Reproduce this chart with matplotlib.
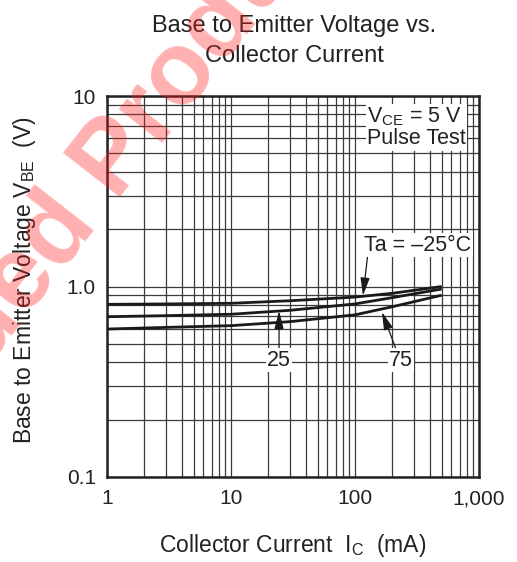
import matplotlib
matplotlib.use("Agg")
import matplotlib.pyplot as plt
from matplotlib.ticker import FixedLocator, FixedFormatter, LogLocator, NullFormatter

plt.rcParams['font.family'] = ['Liberation Sans', 'DejaVu Sans']
plt.rcParams['mathtext.fontset'] = 'custom'
plt.rcParams['mathtext.rm'] = 'Liberation Sans'
plt.rcParams['mathtext.it'] = 'Liberation Sans:italic'
plt.rcParams['mathtext.default'] = 'rm'

# ---- data ----
ic_ma = [1, 3, 10, 30, 100, 200, 500]
vbe_m25 = [0.806, 0.810, 0.816, 0.842, 0.880, 0.921, 1.00]
vbe_25 = [0.694, 0.703, 0.715, 0.750, 0.810, 0.874, 0.970]
vbe_75 = [0.598, 0.610, 0.623, 0.654, 0.710, 0.783, 0.900]

x_ticks = [1, 10, 100, 1000]
x_ticklabels = ["1", "10", "100", "1,000"]
y_ticks = [0.1, 1.0, 10]
y_ticklabels = ["0.1", "1.0", "10"]

fig = plt.figure(figsize=(5.17, 5.62), dpi=100)
ax = fig.add_axes([107/517, 85/562, 372/517, 381/562])
ax.set_xscale('log')
ax.set_yscale('log')
ax.set_xlim(1, 1000)
ax.set_ylim(0.1, 10)

ax.xaxis.set_major_locator(FixedLocator(x_ticks))
ax.xaxis.set_major_formatter(FixedFormatter(x_ticklabels))
ax.yaxis.set_major_locator(FixedLocator(y_ticks))
ax.yaxis.set_major_formatter(FixedFormatter(y_ticklabels))
ax.xaxis.set_minor_locator(LogLocator(base=10, subs=range(2, 10)))
ax.yaxis.set_minor_locator(LogLocator(base=10, subs=range(2, 10)))
ax.xaxis.set_minor_formatter(NullFormatter())
ax.yaxis.set_minor_formatter(NullFormatter())
ax.tick_params(which='both', length=0)
ax.tick_params(axis='x', pad=9, labelsize=15, colors='#222222')
ax.tick_params(axis='y', pad=8, labelsize=15, colors='#222222')
ax.grid(which='both', color='#3a3a3a', linewidth=0.9)
ax.set_axisbelow(True)
for s in ax.spines.values():
    s.set_linewidth(1.8)
    s.set_color('#222222')

for v in (vbe_m25, vbe_25, vbe_75):
    ax.plot(ic_ma, v, color='#1a1a1a', linewidth=2.0, solid_capstyle='butt', zorder=3)

box = dict(facecolor='white', edgecolor='none', pad=1.0)
arrow = dict(arrowstyle='-|>,head_length=0.7,head_width=0.18', color='#1a1a1a', lw=0.9,
             shrinkA=0, shrinkB=0)

ax.text(125, 8.9, "V$_{\\mathrm{CE}}$ = 5 V\nPulse Test", ha='left', va='top', fontsize=15.5,
        color='#222222', bbox=box, zorder=4, linespacing=1.0)

ax.annotate("Ta = \u201325\u00b0C", xy=(116, 0.895), xytext=(322, 1.65), ha='center', va='center',
            fontsize=15.5, color='#222222', bbox=box, zorder=4,
            arrowprops=dict(arrow, relpos=(0.03, 0.0)))
ax.annotate("25", xy=(24.4, 0.745), xytext=(24.4, 0.41), ha='center', va='center',
            fontsize=15.5, color='#222222', bbox=box, zorder=4,
            arrowprops=dict(arrow, relpos=(0.5, 1.0)))
ax.annotate("75", xy=(165, 0.735), xytext=(235, 0.41), ha='center', va='center',
            fontsize=15.5, color='#222222', bbox=box, zorder=4,
            arrowprops=dict(arrow, relpos=(0.3, 1.0)))

fig.text(294/517, 1 - 32/562, "Base to Emitter Voltage vs.", ha='center', va='baseline',
         fontsize=17, color='#222222')
fig.text(294/517, 1 - 62/562, "Collector Current", ha='center', va='baseline',
         fontsize=17, color='#222222')
fig.text(293/517, 1 - 552/562, "Collector Current  I$_{\\mathrm{C}}$  (mA)", ha='center',
         va='baseline', fontsize=16.5, color='#222222')
fig.text(25/517, 1 - 280/562, "Base to Emitter Voltage V$_{\\mathrm{BE}}$  (V)", ha='center',
         va='center', rotation=90, fontsize=16.5, color='#222222')

# watermark
fig.text(6/517, 1 - 300/562, "Discontinued Product", ha='center', va='center',
         rotation=52, rotation_mode='anchor', fontsize=74, fontweight='bold',
         color='#ff1a1a', alpha=0.34, zorder=10)

fig.savefig("out.png", dpi=100)
